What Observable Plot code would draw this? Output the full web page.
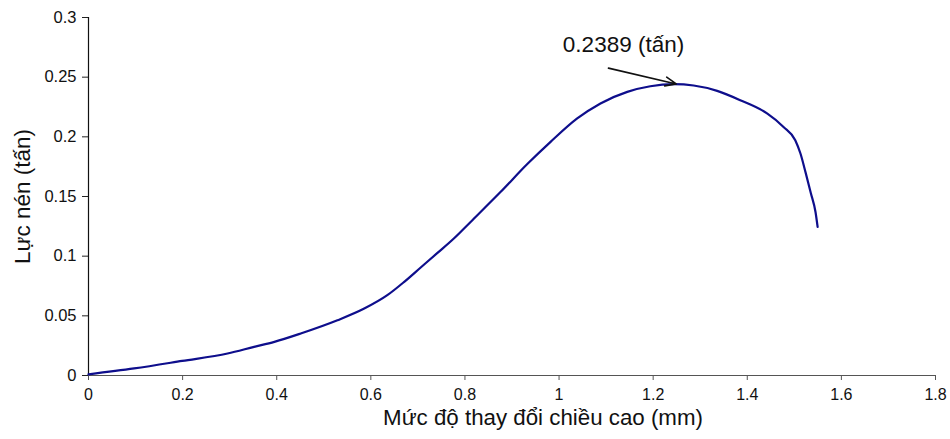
<!DOCTYPE html>
<html>
<head>
<meta charset="utf-8">
<script src="https://cdn.jsdelivr.net/npm/d3@7"></script>
<script src="https://cdn.jsdelivr.net/npm/@observablehq/plot@0.6"></script>
<style>
  html, body { margin: 0; padding: 0; background: #fff; }
  #chart svg { display: block; font-family: "Liberation Sans", Arial, sans-serif; }
</style>
</head>
<body>
<div id="chart"></div>
<script>
// Height change (mm)
const heightChange = [0, 0.097, 0.199, 0.2955, 0.352, 0.395, 0.451, 0.529, 0.586, 0.635, 0.671, 0.706, 0.741, 0.777, 0.812, 0.876, 0.9325, 0.982, 1.0386, 1.088, 1.145, 1.194, 1.244, 1.286, 1.336, 1.385, 1.442, 1.477, 1.502, 1.513, 1.524, 1.535, 1.545, 1.5495];
// Compressive force (tấn)
const force = [0.001, 0.0059, 0.0122, 0.0184, 0.024, 0.0282, 0.0352, 0.0463, 0.0561, 0.0673, 0.0785, 0.0905, 0.1025, 0.115, 0.1287, 0.1539, 0.1772, 0.1958, 0.2154, 0.228, 0.2377, 0.2424, 0.2441, 0.243, 0.2385, 0.2307, 0.2196, 0.2083, 0.1972, 0.186, 0.170, 0.153, 0.137, 0.1245];

const xTicks = [0, 0.2, 0.4, 0.6, 0.8, 1, 1.2, 1.4, 1.6, 1.8];
const yTicks = [0, 0.05, 0.1, 0.15, 0.2, 0.25, 0.3];

const xTitle = "Mức độ thay đổi chiều cao (mm)";
const yTitle = "Lực nén (tấn)";

// Peak annotation: label text, label anchor point, arrow start and tip
const annotationText = ["0.2389 (tấn)"];
const annotationLabelPos = [1.137, 0.2768];
const annotationArrow = [{x1: 1.105, y1: 0.2576, x2: 1.249, y2: 0.2443}];

const data = heightChange.map((x, i) => ({x, y: force[i]}));

const chart = Plot.plot({
  width: 950,
  height: 439,
  marginLeft: 88,
  marginRight: 15,
  marginTop: 17,
  marginBottom: 64,
  style: {fontFamily: "'Liberation Sans', Arial, sans-serif", background: "#fff"},
  x: {domain: [0, 1.8]},
  y: {domain: [0, 0.3]},
  marks: [
    Plot.axisX({ticks: xTicks, tickFormat: d => String(d), tickSize: 5, tickPadding: 8, fontSize: 16, label: null, stroke: "#555", color: "#111"}),
    Plot.axisY({ticks: yTicks, tickFormat: d => String(d), tickSize: 6, tickPadding: 6, fontSize: 16.5, label: null, stroke: "#222", color: "#111"}),
    Plot.ruleY([0], {stroke: "#555", strokeWidth: 1.2}),
    Plot.ruleX([0], {stroke: "#111", strokeWidth: 1.2}),
    Plot.line(data, {x: "x", y: "y", stroke: "#0e0e8c", strokeWidth: 2.2, curve: "monotone-x"}),
    Plot.arrow(annotationArrow, {x1: "x1", y1: "y1", x2: "x2", y2: "y2", stroke: "#111", strokeWidth: 1.6, headLength: 11, headAngle: 45}),
    Plot.text(annotationText, {x: () => annotationLabelPos[0], y: () => annotationLabelPos[1], text: d => d, fontSize: 22.5, fill: "#111"}),
    Plot.text([xTitle], {frameAnchor: "bottom", dx: 31, dy: 49, text: d => d, fontSize: 22.3, fill: "#111"}),
    Plot.text([yTitle], {frameAnchor: "left", textAnchor: "middle", dx: -66, rotate: -90, text: d => d, fontSize: 22.5, fill: "#111"})
  ]
});
document.getElementById("chart").appendChild(chart);
</script>
</body>
</html>
